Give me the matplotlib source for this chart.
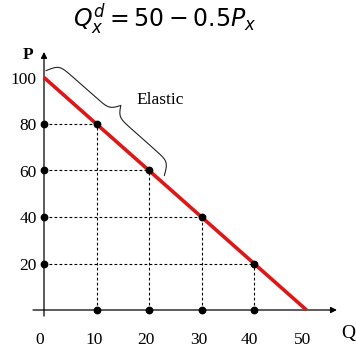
import numpy as np
import matplotlib
matplotlib.use("Agg")
import matplotlib.pyplot as plt

# ---- data ----
Q_line = [0, 50]
P_line = [100, 0]
Q_pts = [10, 20, 30, 40]
P_pts = [80, 60, 40, 20]
x_ticks = [0, 10, 20, 30, 40, 50]
y_ticks = [20, 40, 60, 80, 100]
title_text = r"$Q_x^d = 50 - 0.5P_x$"
brace_label = "Elastic"

plt.rcParams['mathtext.fontset'] = 'dejavusans'

W, H = 356, 350
fig = plt.figure(figsize=(W / 100, H / 100), dpi=100)
ax = fig.add_axes([0, 0, 1, 1])
ax.set_axis_off()

# pixel mapping: Q=0 -> x=44, 5.25 px/unit; P=0 -> y=310 (from top), 2.325 px/unit
x0, sx = 44.0, 5.25
y0, sy = 310.0, 2.325
ax.set_xlim(-x0 / sx, (W - x0) / sx)
ax.set_ylim((y0 - H) / sy, y0 / sy)

serif = 'Liberation Serif'
fs = 12.5

# axes with arrows
ax.annotate('', xy=(55.8, 0), xytext=(-2.1, 0),
            arrowprops=dict(arrowstyle='-|>', color='black', lw=0.9,
                            mutation_scale=9, shrinkA=0, shrinkB=0))
ax.annotate('', xy=(0, 111), xytext=(0, -2.6),
            arrowprops=dict(arrowstyle='-|>', color='black', lw=0.9,
                            mutation_scale=9, shrinkA=0, shrinkB=0))

# dashed guides
for q, p in zip(Q_pts, P_pts):
    ax.plot([0, q], [p, p], color='black', lw=0.8, ls=(0, (2.5, 2)))
    ax.plot([q, q], [0, p], color='black', lw=0.8, ls=(0, (2.5, 2)))

# demand line
ax.plot(Q_line, P_line, color='#e01515', lw=2.6, solid_capstyle='butt', zorder=3)

# dots
ax.plot(Q_pts, P_pts, 'o', color='black', ms=4.6, zorder=4)
ax.plot([0] * len(P_pts), P_pts, 'o', color='black', ms=4.6, zorder=4)
ax.plot(Q_pts, [0] * len(Q_pts), 'o', color='black', ms=4.6, zorder=4)

# tick labels
for p in y_ticks:
    ax.text(-1.4, p - 1.0, str(p), ha='right', va='center', fontsize=fs, family=serif)
for q in x_ticks:
    ax.text(q - 0.8 if q in (0, 40, 50) else q - 0.5, -12.9, str(q), ha='center', va='center',
            fontsize=fs, family=serif)

ax.text(-3.1, 109.5, 'P', ha='center', va='center', fontsize=12.5, family=serif, fontweight='bold')
ax.text(57.9, -9.9, 'Q', ha='center', va='center', fontsize=14, family=serif)

# title
fig.text(165 / W, 1 - 19 / H, title_text, ha='center', va='center', fontsize=17)

# brace along the demand line (computed in display space)
T = ax.transData
a = np.array(T.transform((Q_line[0], P_line[0])))
b = np.array(T.transform((Q_line[1], P_line[1])))
u = (b - a) / np.linalg.norm(b - a)
n = np.array([-u[1], u[0]])
if n[1] < 0:
    n = -n
s_start, L = -3.0, 158.0
h_end, h_body, h_tip = 6.5, 19.5, 30.0
beta = 0.32
sig = lambda z: 1.0 / (1.0 + np.exp(-z))
half = np.linspace(0, L / 2, 200)
hh = h_end + (h_body - h_end) * 2 * (sig(beta * half) - 0.5) \
    + (h_tip - h_body) * 2 * sig(beta * (half - L / 2))
s_all = np.concatenate([half, L - half[::-1]])
h_all = np.concatenate([hh, hh[::-1]])
pts = a[None, :] + (s_start + s_all)[:, None] * u[None, :] + h_all[:, None] * n[None, :]
dpts = T.inverted().transform(pts)
ax.plot(dpts[:, 0], dpts[:, 1], color='#222222', lw=0.8)

ax.text(22.1, 90.3, brace_label, ha='center', va='center', fontsize=fs, family=serif)

fig.savefig('out.png', dpi=100)
